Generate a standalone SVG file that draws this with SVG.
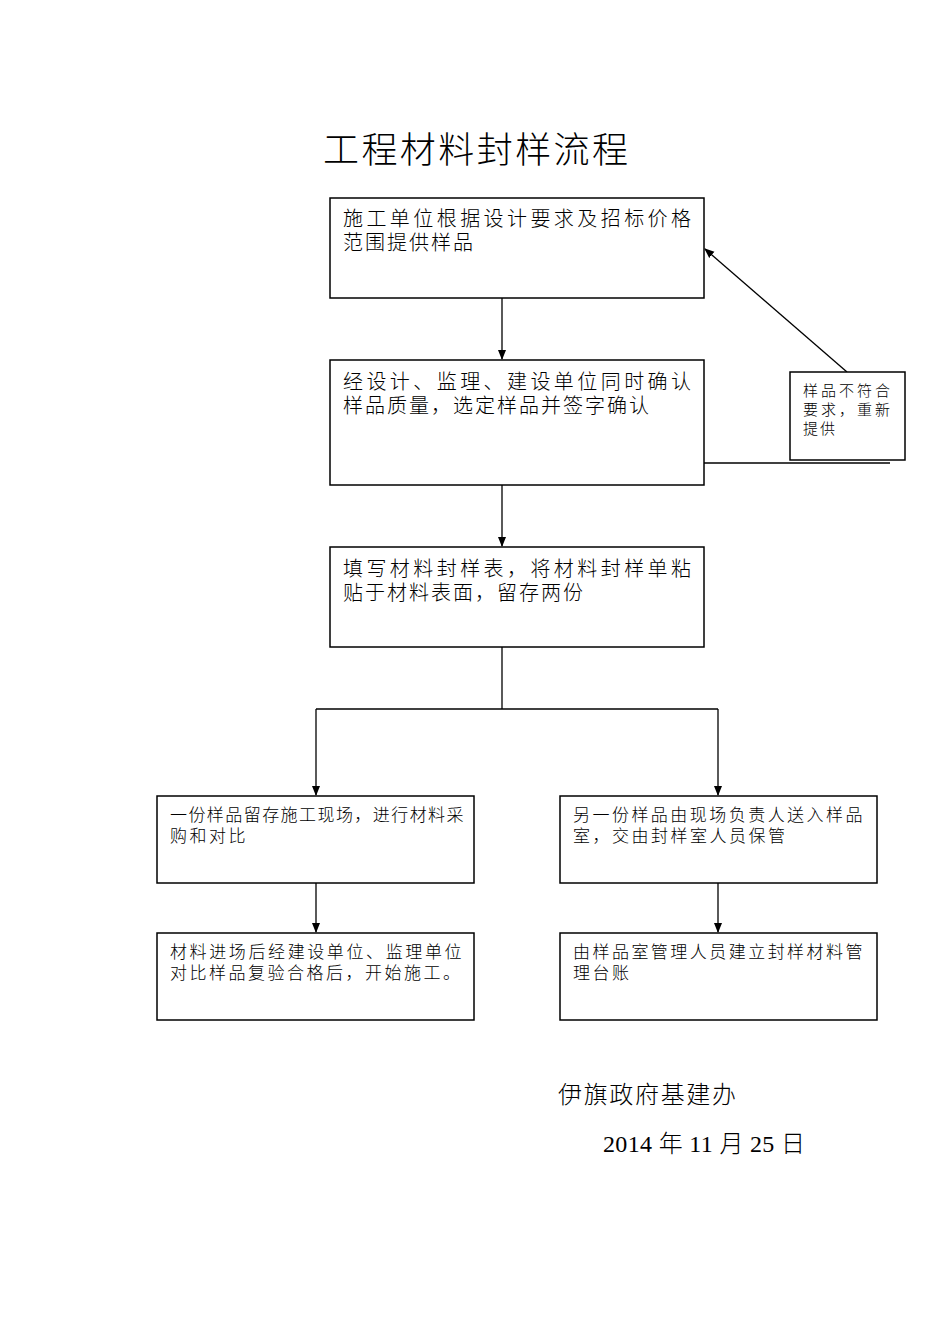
<svg xmlns="http://www.w3.org/2000/svg" width="950" height="1344" viewBox="0 0 950 1344">
<style>
.box{fill:#fff;stroke:#000;stroke-width:1.5}
.ln{fill:none;stroke:#000;stroke-width:1.3}
text{font-family:"Liberation Serif","Noto Sans CJK SC",serif;fill:#000;font-weight:300}
.t{font-size:20px;letter-spacing:2px}
.s{font-size:17px;letter-spacing:2.5px}
.x{font-size:15px;letter-spacing:2px}
</style>
<defs>
<marker id="ah" markerWidth="10" markerHeight="10" refX="9" refY="5" orient="auto" markerUnits="userSpaceOnUse">
<path d="M0,1 L10,5 L0,9 Z" fill="#000"/>
</marker>
</defs>
<rect width="950" height="1344" fill="#fff"/>
<text x="323" y="163" font-size="36" textLength="305" lengthAdjust="spacing">工程材料封样流程</text>
<g id="connectors">
<line class="ln" x1="502" y1="298" x2="502" y2="359" marker-end="url(#ah)"/>
<line class="ln" x1="502" y1="485" x2="502" y2="546" marker-end="url(#ah)"/>
<polyline class="ln" points="502,647 502,709"/>
<polyline class="ln" points="316,709 718,709"/>
<line class="ln" x1="316" y1="709" x2="316" y2="795" marker-end="url(#ah)"/>
<line class="ln" x1="718" y1="709" x2="718" y2="795" marker-end="url(#ah)"/>
<line class="ln" x1="316" y1="883" x2="316" y2="932" marker-end="url(#ah)"/>
<line class="ln" x1="718" y1="883" x2="718" y2="932" marker-end="url(#ah)"/>
<line class="ln" x1="704" y1="463" x2="890" y2="463"/>
<line class="ln" x1="847" y1="372" x2="705" y2="249" marker-end="url(#ah)"/>
</g>
<g id="n1">
<rect class="box" x="330" y="198" width="374" height="100"/>
<text class="t" x="343" y="226" textLength="350" lengthAdjust="spacing">施工单位根据设计要求及招标价格</text>
<text class="t" x="343" y="250">范围提供样品</text>
</g>
<g id="n2">
<rect class="box" x="330" y="360" width="374" height="125"/>
<text class="t" x="343" y="389" textLength="350" lengthAdjust="spacing">经设计、监理、建设单位同时确认</text>
<text class="t" x="343" y="413">样品质量，选定样品并签字确认</text>
</g>
<g id="n3">
<rect class="box" x="330" y="547" width="374" height="100"/>
<text class="t" x="343" y="576" textLength="350" lengthAdjust="spacing">填写材料封样表，将材料封样单粘</text>
<text class="t" x="343" y="600">贴于材料表面，留存两份</text>
</g>
<g id="n4">
<rect class="box" x="157" y="796" width="317" height="87"/>
<text class="s" x="170" y="821" textLength="296" lengthAdjust="spacing">一份样品留存施工现场，进行材料采</text>
<text class="s" x="170" y="842">购和对比</text>
</g>
<g id="n5">
<rect class="box" x="560" y="796" width="317" height="87"/>
<text class="s" x="573" y="821" textLength="292" lengthAdjust="spacing">另一份样品由现场负责人送入样品</text>
<text class="s" x="573" y="842">室，交由封样室人员保管</text>
</g>
<g id="n6">
<rect class="box" x="157" y="933" width="317" height="87"/>
<text class="s" x="170" y="958" textLength="294" lengthAdjust="spacing">材料进场后经建设单位、监理单位</text>
<text class="s" x="170" y="979">对比样品复验合格后，开始施工。</text>
</g>
<g id="n7">
<rect class="box" x="560" y="933" width="317" height="87"/>
<text class="s" x="573" y="958" textLength="292" lengthAdjust="spacing">由样品室管理人员建立封样材料管</text>
<text class="s" x="573" y="979">理台账</text>
</g>
<g id="n8">
<rect class="box" x="790" y="372" width="115" height="88"/>
<text class="x" x="803" y="396" textLength="89" lengthAdjust="spacing">样品不符合</text>
<text class="x" x="803" y="415" textLength="89" lengthAdjust="spacing">要求，重新</text>
<text class="x" x="803" y="434">提供</text>
</g>
<text x="558" y="1103" font-size="24" textLength="178" lengthAdjust="spacing">伊旗政府基建办</text>
<text x="603" y="1152" font-size="24" textLength="202" lengthAdjust="spacing">2014 年 11 月 25 日</text>
</svg>
